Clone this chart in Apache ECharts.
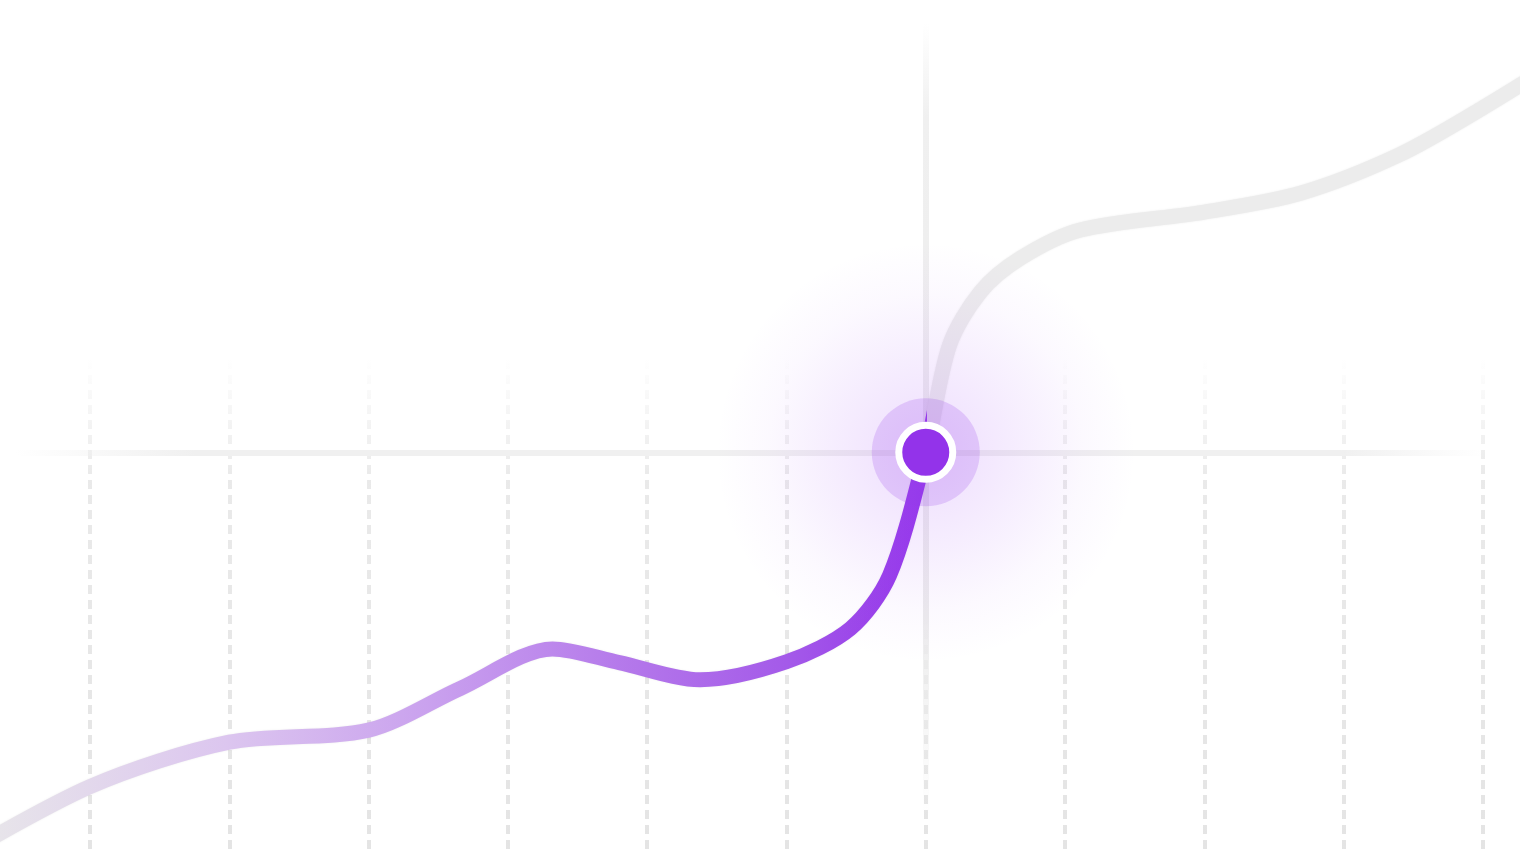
<!DOCTYPE html>
<html>
<head>
<meta charset="utf-8">
<style>
  html, body { margin: 0; padding: 0; background: #ffffff; }
  #chart { width: 1520px; height: 855px; }
</style>
<script src="https://cdn.jsdelivr.net/npm/echarts@6/dist/echarts.min.js"></script>
</head>
<body>
<div id="chart"></div>
<script>
// ---- data (x in guide-line steps, y in % of height) ----
var xValues = [-1.08, 0, 1.00, 2.00, 2.66, 3.32, 3.80, 4.38, 5.00, 5.46, 5.74, 6.00,
               6.17, 6.39, 6.68, 7.11, 8.00, 8.69, 9.40, 10.00, 10.84];
var yValues = [-1.5, 8.0, 13.2, 14.6, 19.5, 24.1, 22.5, 20.5, 22.6, 26.5, 32.7, 47.1,
               59.6, 65.8, 69.8, 73.1, 75.2, 77.4, 81.9, 87.4, 95.9];
var highlightIndex = 11;          // the emphasised point (x = 6)
var gridTicks = [0, 10];          // dashed guide lines: first / last tick
var tickStep = 1;
var viewX = [-0.646, 10.266];     // visible part of the x range
var yMin = 0, yMax = 100;

var hx = xValues[highlightIndex];
var hy = yValues[highlightIndex];
var seriesData = xValues.map(function (x, i) { return [x, yValues[i]]; });

function off(x) { return (x - xValues[0]) / (xValues[xValues.length - 1] - xValues[0]); }
var hOff = off(hx);

var lineGradient = {
  type: 'linear', x: 0, y: 0, x2: 1, y2: 0,
  colorStops: [
    { offset: 0, color: '#ebebeb' },
    { offset: off(-0.6), color: '#e7e4ea' },
    { offset: off(1), color: '#dcc6ef' },
    { offset: off(2.5), color: '#c9a0ee' },
    { offset: off(4), color: '#b274ea' },
    { offset: off(5), color: '#a45ae9' },
    { offset: hOff, color: '#9333ea' },
    { offset: hOff, color: '#ececec' },
    { offset: 1, color: '#ececec' }
  ]
};

var hiddenAxis = {
  axisLine: { show: false }, axisTick: { show: false }, axisLabel: { show: false },
  splitLine: { show: false }
};

var chart = echarts.init(document.getElementById('chart'), null, { renderer: 'canvas' });
chart.setOption({
  backgroundColor: '#ffffff',
  animation: false,
  grid: [
    { left: 0, right: 0, top: 0, bottom: 0, containLabel: false },
    { left: 90, right: 37, top: 0, bottom: 0, containLabel: false }
  ],
  xAxis: [
    Object.assign({ type: 'value', gridIndex: 0, min: viewX[0], max: viewX[1] }, hiddenAxis),
    {
      type: 'value', gridIndex: 1, min: gridTicks[0], max: gridTicks[1], interval: tickStep,
      axisLine: { show: false }, axisTick: { show: false }, axisLabel: { show: false },
      splitLine: {
        show: true,
        lineStyle: {
          type: [9, 6], width: 4,
          color: {
            type: 'linear', x: 0, y: 0, x2: 0, y2: 1,
            colorStops: [
              { offset: 0, color: 'rgba(230,230,230,0)' },
              { offset: 0.42, color: 'rgba(230,230,230,0)' },
              { offset: 0.56, color: 'rgba(230,230,230,0.85)' },
              { offset: 1, color: 'rgba(228,228,228,1)' }
            ]
          }
        }
      }
    }
  ],
  yAxis: [
    Object.assign({ type: 'value', gridIndex: 0, min: yMin, max: yMax }, hiddenAxis),
    Object.assign({ type: 'value', gridIndex: 1, min: yMin, max: yMax }, hiddenAxis)
  ],
  series: [
    { type: 'line', xAxisIndex: 1, yAxisIndex: 1, data: [], silent: true },
    {
      type: 'line', name: 'trend', z: 2,
      data: seriesData, smooth: 0.3, symbol: 'none', clip: false,
      lineStyle: { width: 15, color: lineGradient, cap: 'round', join: 'round',
        shadowColor: 'rgba(0,0,0,0.07)', shadowBlur: 2 },
      markLine: {
        silent: true, symbol: 'none', label: { show: false }, animation: false,
        z: 1,
        data: [
          {
            xAxis: hx,
            lineStyle: {
              type: 'solid', width: 6,
              color: {
                type: 'linear', x: 0, y: 0, x2: 0, y2: 1,
                colorStops: [
                  { offset: 0, color: 'rgba(240,240,240,0)' },
                  { offset: 0.03, color: 'rgba(240,240,240,0)' },
                  { offset: 0.14, color: 'rgba(240,240,240,1)' },
                  { offset: 0.72, color: 'rgba(236,236,236,1)' },
                  { offset: 0.95, color: 'rgba(236,236,236,0)' },
                  { offset: 1, color: 'rgba(236,236,236,0)' }
                ]
              }
            }
          },
          {
            yAxis: hy,
            lineStyle: {
              type: 'solid', width: 6,
              color: {
                type: 'linear', x: 0, y: 0, x2: 1, y2: 0,
                colorStops: [
                  { offset: 0, color: 'rgba(240,240,240,0)' },
                  { offset: 0.012, color: 'rgba(240,240,240,0)' },
                  { offset: 0.13, color: 'rgba(240,240,240,1)' },
                  { offset: 0.88, color: 'rgba(240,240,240,1)' },
                  { offset: 0.975, color: 'rgba(240,240,240,0)' },
                  { offset: 1, color: 'rgba(240,240,240,0)' }
                ]
              }
            }
          }
        ]
      }
    },
    {
      type: 'scatter', name: 'glow', z: 3, silent: true,
      data: [[hx, hy]], symbolSize: 420,
      itemStyle: {
        opacity: 1,
        color: {
          type: 'radial', x: 0.5, y: 0.5, r: 0.5,
          colorStops: [
            { offset: 0, color: 'rgba(168,85,247,0.2)' },
            { offset: 0.45, color: 'rgba(168,85,247,0.1)' },
            { offset: 0.75, color: 'rgba(168,85,247,0.035)' },
            { offset: 1, color: 'rgba(168,85,247,0)' }
          ]
        }
      }
    },
    {
      type: 'scatter', name: 'halo', z: 4, silent: true,
      data: [[hx, hy]], symbolSize: 108,
      itemStyle: { opacity: 1, color: 'rgba(150,60,235,0.2)' }
    },
    {
      type: 'scatter', name: 'point', z: 5, silent: true,
      data: [[hx, hy]], symbolSize: 54,
      itemStyle: { opacity: 1, color: '#9333ea', borderColor: '#ffffff', borderWidth: 7 }
    }
  ]
});
</script>
</body>
</html>
